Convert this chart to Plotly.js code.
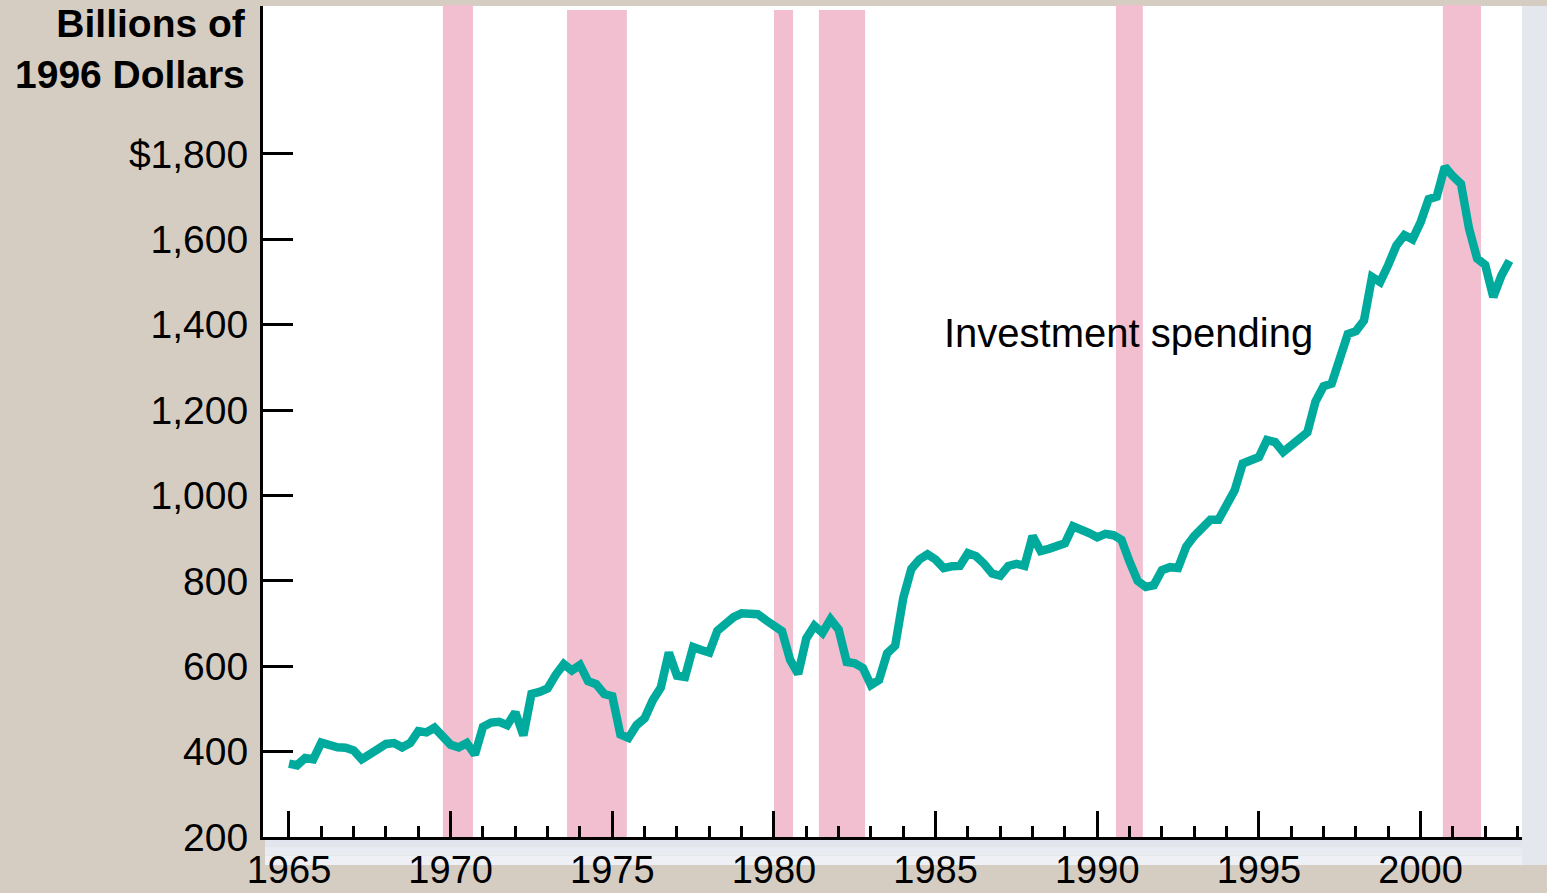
<!DOCTYPE html>
<html>
<head>
<meta charset="utf-8">
<script src="https://cdn.plot.ly/plotly-3.0.1.min.js"></script>
<style>
  html, body { margin: 0; padding: 0; background: #d6cdc2; }
  #chart { width: 1547px; height: 893px; }
</style>
</head>
<body>
<div id="chart"></div>
<script>
// Real investment spending, billions of 1996 dollars, quarterly from 1965Q1
const startYear = 1965;
const investment = [
  372, 368, 385, 382,     // 1965
  421, 414, 410, 409,     // 1966
  403, 382, 397, 406,     // 1967
  418, 420, 410, 420,     // 1968
  448, 445, 456, 432,     // 1969
  416, 410, 420, 393,     // 1970
  458, 468, 470, 462,     // 1971
  492, 438, 535, 540,     // 1972
  548, 580, 605, 590,     // 1973
  603, 565, 558, 535,     // 1974
  530, 440, 432, 462,     // 1975
  478, 520, 550, 632,     // 1976
  578, 575, 645, 638,     // 1977
  632, 683, 700, 715,     // 1978
  724, 724, 722, 708,     // 1979
  695, 682, 615, 582,     // 1980
  665, 695, 678, 710,     // 1981
  686, 610, 607, 596,     // 1982
  556, 568, 630, 648,     // 1983
  760, 828, 850, 862,     // 1984
  850, 830, 834, 835,     // 1985
  865, 858, 840, 817,     // 1986
  812, 835, 840, 835,     // 1987
  905, 870, 875, 882,     // 1988
  888, 928, 922, 912,     // 1989
  902, 910, 907, 896,     // 1990
  845, 800, 786, 790,     // 1991
  825, 832, 830, 880,     // 1992
  905, 926, 943, 943,     // 1993
  975, 1012, 1075, 1085,  // 1994
  1090, 1130, 1125, 1102, // 1995
  1118, 1135, 1148, 1220, // 1996
  1256, 1262, 1320, 1378, // 1997
  1385, 1410, 1512, 1500, // 1998
  1540, 1585, 1610, 1600, // 1999
  1640, 1694, 1700, 1770, // 2000
  1748, 1730, 1625, 1555, // 2001
  1540, 1465, 1515, 1550  // 2002
];
const quarterDates = investment.map((v, i) => startYear + i / 4);

// Recession periods (decimal years)
const recessionStart = [1969.76, 1973.6, 1980.0, 1981.39, 1990.58, 2000.69];
const recessionEnd   = [1970.69, 1975.45, 1980.59, 1982.82, 1991.41, 2001.87];
const recessionTall  = [true, false, false, false, true, true];

// Axis ticks
const yTickVals = [200, 400, 600, 800, 1000, 1200, 1400, 1600, 1800];
const yTickText = ['200', '400', '600', '800', '1,000', '1,200', '1,400', '1,600', '$1,800'];
const xTickVals = [1965, 1970, 1975, 1980, 1985, 1990, 1995, 2000];
const xTickText = ['1965', '1970', '1975', '1980', '1985', '1990', '1995', '2000'];

const FONT = '"Liberation Sans", Arial, sans-serif';

const plotH = 831;
const shapes = [];
recessionStart.forEach((s, i) => {
  shapes.push({
    type: 'rect', xref: 'x', yref: 'paper', layer: 'below',
    x0: s, x1: recessionEnd[i],
    y0: -4 / plotH, y1: recessionTall[i] ? 1 + 1 / plotH : 1 - 4 / plotH,
    fillcolor: '#f2bfd1', line: { width: 0 }
  });
});
// right and bottom frame strips
shapes.push({ type: 'rect', xref: 'paper', yref: 'paper', layer: 'below',
  x0: 1, x1: 1.03, y0: -28 / plotH, y1: 1, fillcolor: '#e5e7ef', line: { width: 0 } });
const bandCols = ['#e3e5ee', '#e9ebf2', '#eff0f5'];
bandCols.forEach((c, k) => {
  shapes.push({ type: 'rect', xref: 'paper', yref: 'paper', layer: 'below',
    x0: 2 / 1259, x1: 1, y0: -(k + 1) * 28 / 3 / plotH, y1: -k * 28 / 3 / plotH,
    fillcolor: c, line: { width: 0 } });
});

const trace = {
  x: quarterDates, y: investment, type: 'scatter', mode: 'lines',
  line: { color: '#00ab9e', width: 8.5 },
  hoverinfo: 'skip', showlegend: false
};

const layout = {
  width: 1547, height: 893,
  paper_bgcolor: '#d6cdc2', plot_bgcolor: '#ffffff',
  margin: { l: 263, r: 25, t: 6, b: 56, pad: 0 },
  font: { family: FONT, color: '#000', size: 39 },
  showlegend: false,
  xaxis: {
    range: [1964.196, 2003.138], showgrid: false, zeroline: false,
    showline: true, linecolor: '#000', linewidth: 3,
    ticks: 'inside', ticklen: 26, tickwidth: 3, tickcolor: '#000',
    tickmode: 'array', tickvals: xTickVals, ticktext: xTickText,
    tickfont: { size: 38, family: FONT, color: '#000' },
    ticklabelstandoff: -3,
    minor: { dtick: 1, tick0: 1965, ticks: 'inside', ticklen: 11, tickwidth: 3, tickcolor: '#000', showgrid: false },
    fixedrange: true
  },
  yaxis: {
    range: [200, 2146.6], showgrid: false, zeroline: false,
    showline: true, linecolor: '#000', linewidth: 3,
    ticks: 'inside', ticklen: 30, tickwidth: 3, tickcolor: '#000',
    tickmode: 'array', tickvals: yTickVals, ticktext: yTickText,
    tickfont: { size: 39, family: FONT, color: '#000' },
    ticklabelstandoff: 4,
    fixedrange: true
  },
  shapes: shapes,
  annotations: [
    {
      xref: 'paper', yref: 'paper', x: -15 / 1259, y: (837 - 49) / plotH,
      xanchor: 'right', yanchor: 'middle', align: 'right', showarrow: false,
      text: '<b>Billions of<br>1996 Dollars</b>',
      font: { family: FONT, size: 39, color: '#000' }
    },
    {
      xref: 'x', yref: 'y', x: 1990.98, y: 1380,
      xanchor: 'center', yanchor: 'middle', showarrow: false,
      text: 'Investment spending',
      font: { family: FONT, size: 40, color: '#000' }
    }
  ]
};

Plotly.newPlot('chart', [trace], layout, { staticPlot: true, displayModeBar: false });
</script>
</body>
</html>
